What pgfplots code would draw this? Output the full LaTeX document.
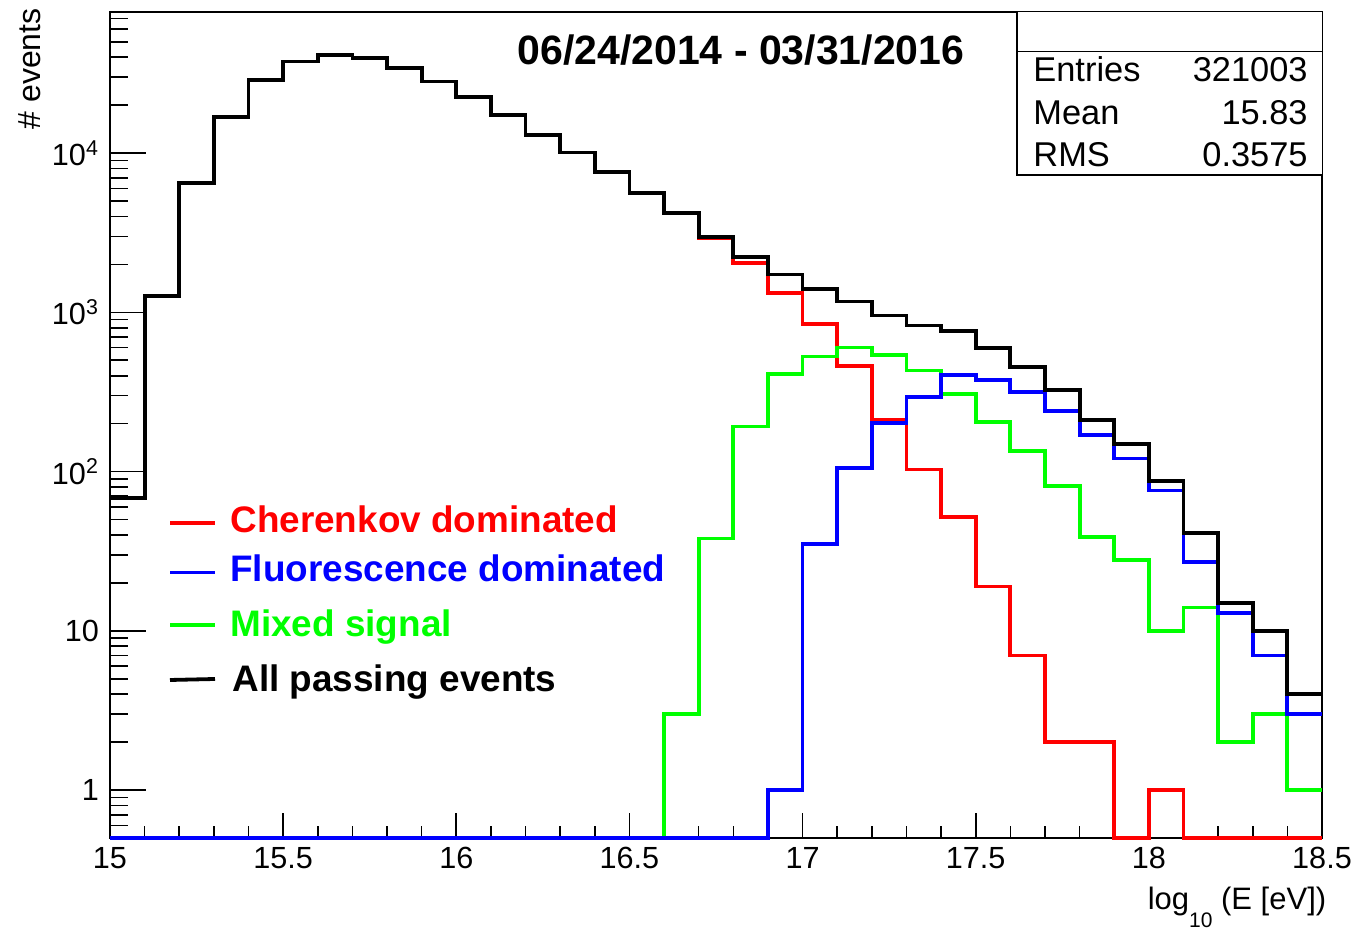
\documentclass[border=0pt]{standalone}
\usepackage{pgfplots}
\pgfplotsset{compat=1.18}
\usepackage{fontspec}
\setmainfont{Liberation Sans}
\definecolor{rootred}{RGB}{255,0,0}
\definecolor{rootgreen}{RGB}{0,255,0}
\definecolor{rootblue}{RGB}{0,0,255}
\begin{document}
\begin{tikzpicture}
\useasboundingbox (0,0) rectangle (679.5pt,465pt);
\begin{axis}[
  at={(55pt,46pt)}, anchor=south west,
  width=606pt, height=413pt, scale only axis,
  xmin=15, xmax=18.5, ymode=log, ymin=0.5, ymax=77000,
  clip=false,
  axis line style={line width=1pt},
  xtick={15,15.5,16,16.5,17,17.5,18,18.5},
  xticklabels={15,15.5,16,16.5,17,17.5,18,18.5},
  minor x tick num=4,
  ytick={1,10,100,1000,10000},
  yticklabels={1,10,10\textsuperscript{2},10\textsuperscript{3},10\textsuperscript{4}},
  minor ytick={0.6,0.7,0.8,0.9,2,3,4,5,6,7,8,9,20,30,40,50,60,70,80,90,200,300,400,500,600,700,800,900,2000,3000,4000,5000,6000,7000,8000,9000,20000,30000,40000,50000,60000,70000},
  tick align=inside,
  xtick pos=left, ytick pos=left,
  major tick length=18pt, minor tick length=9pt,
  xtick style={/pgfplots/major tick length=12.5pt,/pgfplots/minor tick length=6pt},
  tick style={line width=0.8pt, black},
  ticklabel style={font=\fontsize{15.3}{18}\selectfont},
  xticklabel style={anchor=north, yshift=-1pt},
  yticklabel style={anchor=east, xshift=-2pt},
  every axis plot/.append style={line width=1.9pt, const plot, mark=none},
]
% Cherenkov dominated (red)
\addplot[rootred] coordinates {
(15.0,68) (15.1,1270) (15.2,6520) (15.3,16900) (15.4,28700) (15.5,37600)
(15.6,41100) (15.7,39800) (15.8,34400) (15.9,28200) (16.0,22500) (16.1,17400)
(16.2,12970) (16.3,10100) (16.4,7640) (16.5,5590) (16.6,4227) (16.7,2920)
(16.8,2040) (16.9,1320) (17.0,847) (17.1,462) (17.2,210) (17.3,103)
(17.4,52) (17.5,19) (17.6,7) (17.7,2) (17.8,2) (17.9,0.5)
(18.0,1) (18.1,0.5) (18.2,0.5) (18.3,0.5) (18.4,0.5) (18.5,0.5)};
% Mixed signal (green)
\addplot[rootgreen] coordinates {
(15.0,0.5) (15.1,0.5) (15.2,0.5) (15.3,0.5) (15.4,0.5) (15.5,0.5)
(15.6,0.5) (15.7,0.5) (15.8,0.5) (15.9,0.5) (16.0,0.5) (16.1,0.5)
(16.2,0.5) (16.3,0.5) (16.4,0.5) (16.5,0.5) (16.6,3) (16.7,38)
(16.8,192) (16.9,410) (17.0,528) (17.1,602) (17.2,541) (17.3,432)
(17.4,308) (17.5,204) (17.6,134) (17.7,81) (17.8,39) (17.9,28)
(18.0,10) (18.1,14) (18.2,2) (18.3,3) (18.4,1) (18.5,1)};
% Fluorescence dominated (blue)
\addplot[rootblue] coordinates {
(15.0,0.5) (15.1,0.5) (15.2,0.5) (15.3,0.5) (15.4,0.5) (15.5,0.5)
(15.6,0.5) (15.7,0.5) (15.8,0.5) (15.9,0.5) (16.0,0.5) (16.1,0.5)
(16.2,0.5) (16.3,0.5) (16.4,0.5) (16.5,0.5) (16.6,0.5) (16.7,0.5)
(16.8,0.5) (16.9,1) (17.0,35) (17.1,105) (17.2,202) (17.3,294)
(17.4,404) (17.5,377) (17.6,316) (17.7,241) (17.8,169) (17.9,121)
(18.0,76) (18.1,27) (18.2,13) (18.3,7) (18.4,3) (18.5,3)};
% All passing events (black)
\addplot[black] coordinates {
(15.0,68) (15.1,1270) (15.2,6520) (15.3,16900) (15.4,28700) (15.5,37600)
(15.6,41100) (15.7,39800) (15.8,34400) (15.9,28200) (16.0,22500) (16.1,17400)
(16.2,12970) (16.3,10100) (16.4,7640) (16.5,5590) (16.6,4230) (16.7,2960)
(16.8,2230) (16.9,1730) (17.0,1410) (17.1,1170) (17.2,955) (17.3,826)
(17.4,766) (17.5,598) (17.6,455) (17.7,324) (17.8,210) (17.9,149)
(18.0,87) (18.1,41) (18.2,15) (18.3,10) (18.4,4) (18.5,4)};
\end{axis}
% title
\node[anchor=base, font=\fontsize{20.5}{24}\selectfont\bfseries] at (370.5pt,432.9pt) {06/24/2014 - 03/31/2016};
% stats box
\draw[line width=0.75pt, fill=white] (508.5pt,459.2pt) rectangle (661.2pt,377.5pt);
\draw[line width=0.75pt] (508.5pt,439.2pt) -- (661.2pt,439.2pt);
\begin{scope}[every node/.style={inner sep=0pt, font=\fontsize{17.2}{20}\selectfont}]
\node[anchor=base west] at (516.5pt,424pt) {Entries};
\node[anchor=base east] at (654pt,424pt) {321003};
\node[anchor=base west] at (516.5pt,402.5pt) {Mean};
\node[anchor=base east] at (654pt,402.5pt) {15.83};
\node[anchor=base west] at (516.5pt,381.7pt) {RMS};
\node[anchor=base east] at (654pt,381.7pt) {0.3575};
\end{scope}
% legend
\begin{scope}[every node/.style={inner sep=0pt, anchor=base west, font=\fontsize{18.45}{22}\selectfont\bfseries}]
\draw[rootred, line width=1.9pt] (85pt,203.4pt) -- (107.5pt,203.4pt);
\node[text=rootred] at (115pt,198.7pt) {Cherenkov dominated};
\draw[rootblue, line width=1.9pt] (85pt,178.7pt) -- (107.5pt,178.7pt);
\node[text=rootblue] at (115pt,174.2pt) {Fluorescence dominated};
\draw[rootgreen, line width=1.9pt] (85pt,152.5pt) -- (107.5pt,152.5pt);
\node[text=rootgreen] at (115pt,146.7pt) {Mixed signal};
\draw[black, line width=1.9pt] (85pt,125pt) -- (107.5pt,125.5pt);
\node[text=black] at (116pt,119.2pt) {All passing events};
\end{scope}
% axis titles
\node[anchor=base east, inner sep=0pt, font=\fontsize{15.5}{18}\selectfont] at (663.3pt,10pt) {log\raisebox{-9pt}{\fontsize{10.5}{12}\selectfont 10} (E [eV])};
\node[rotate=90, anchor=base east, inner sep=0pt, font=\fontsize{16}{19}\selectfont] at (20pt,461pt) {\#~events};
\end{tikzpicture}
\end{document}
